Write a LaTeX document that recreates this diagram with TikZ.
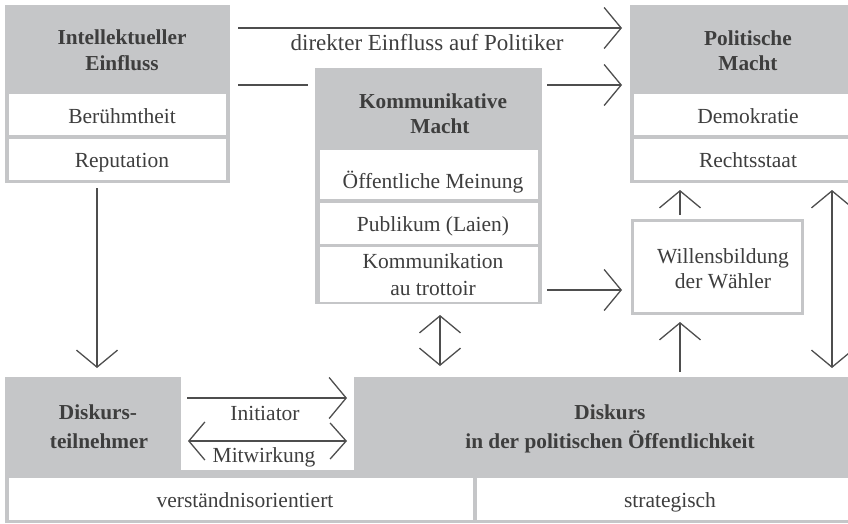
\documentclass[tikz,border=0pt]{standalone}
\usepackage{fontspec}
\setmainfont{Liberation Serif}
\usetikzlibrary{arrows.meta}
\definecolor{boxgray}{RGB}{197,198,200}
\definecolor{txtgray}{RGB}{62,62,62}
\definecolor{arrgray}{RGB}{78,78,78}
\begin{document}
\begin{tikzpicture}[x=1pt,y=-1pt,
  grayrect/.style={rectangle, fill=boxgray, draw=none, inner sep=0pt, outer sep=0pt, anchor=north west},
  whiterect/.style={rectangle, fill=white, draw=none, inner sep=0pt, outer sep=0pt, anchor=north west},
  framerect/.style={rectangle, fill=white, draw=boxgray, line width=3pt, inner sep=0pt, outer sep=0pt, anchor=north west},
  lbl/.style={anchor=base, inner sep=0pt, outer sep=0pt, text=txtgray, font=\fontsize{21.5}{27}\selectfont},
  biglbl/.style={lbl, font=\fontsize{23}{28}\selectfont},
  blbl/.style={lbl, font=\fontsize{21.3}{27}\selectfont\bfseries},
  conn/.style={draw=arrgray, line width=1.3pt},
  arr/.style={conn, -{Straight Barb[length=17pt,width=41pt]}},
  dbl/.style={conn, {Straight Barb[length=17pt,width=41pt]}-{Straight Barb[length=17pt,width=41pt]}},
  dblsmall/.style={conn, {Straight Barb[length=16pt,width=38pt]}-{Straight Barb[length=16pt,width=36pt]}}
]
\useasboundingbox (0,0) rectangle (848,523);

% Intellektueller Einfluss
\node[grayrect, minimum width=224.5pt, minimum height=178pt] (intel) at (5,5) {};
\node[whiterect, minimum width=217pt, minimum height=41pt] (beru) at (8.7,94.3) {};
\node[whiterect, minimum width=217pt, minimum height=41pt] (repu) at (8.7,139) {};
\node[blbl] (intelA) at (122,44) {Intellektueller};
\node[blbl] (intelB) at (122,70) {Einfluss};
\node[lbl] (beruT) at (122,123) {Berühmtheit};
\node[lbl] (repuT) at (122,167) {Reputation};

% Politische Macht
\node[grayrect, minimum width=218pt, minimum height=178pt] (pol) at (630,5) {};
\node[whiterect, minimum width=215pt, minimum height=41pt] (demo) at (633.5,94.3) {};
\node[whiterect, minimum width=215pt, minimum height=41pt] (rech) at (633.5,139) {};
\node[blbl] (polA) at (748,45) {Politische};
\node[blbl] (polB) at (748,70) {Macht};
\node[lbl] (demoT) at (748,123) {Demokratie};
\node[lbl] (rechT) at (748,167) {Rechtsstaat};

% Kommunikative Macht
\node[grayrect, minimum width=227pt, minimum height=236pt] (komm) at (315,68) {};
\node[whiterect, minimum width=218pt, minimum height=49pt] (oeff) at (319.5,150) {};
\node[whiterect, minimum width=218pt, minimum height=40.5pt] (publ) at (319.5,203) {};
\node[whiterect, minimum width=218pt, minimum height=54.5pt] (trot) at (319.5,247) {};
\node[blbl] (kommA) at (433,108) {Kommunikative};
\node[blbl] (kommB) at (440,133) {Macht};
\node[lbl] (oeffT) at (433,188) {Öffentliche Meinung};
\node[lbl] (publT) at (433,231) {Publikum (Laien)};
\node[lbl] (trotA) at (433,268) {Kommunikation};
\node[lbl] (trotB) at (433,295) {au trottoir};

% Willensbildung der Waehler
\node[framerect, minimum width=170pt, minimum height=93pt] (will) at (632.5,220.5) {};
\node[lbl] (willA) at (723,263) {Willensbildung};
\node[lbl] (willB) at (723,288) {der Wähler};

% bottom
\node[grayrect, minimum width=176pt, minimum height=101pt] (teil) at (5,377) {};
\node[grayrect, minimum width=494pt, minimum height=101pt] (disk) at (354,377) {};
\node[grayrect, minimum width=843pt, minimum height=53pt] (strip) at (5,470) {};
\node[whiterect, minimum width=464pt, minimum height=41.5pt] (verst) at (9,478.3) {};
\node[whiterect, minimum width=371pt, minimum height=41.5pt] (strat) at (477,478.3) {};
\node[blbl] (teilA) at (98,419) {Diskurs-};
\node[blbl] (teilB) at (99,448) {teilnehmer};
\node[blbl] (diskA) at (610,419) {Diskurs};
\node[blbl] (diskB) at (610,448) {in der politischen Öffentlichkeit};
\node[lbl] (verstT) at (245,507) {verständnisorientiert};
\node[lbl] (stratT) at (670,507) {strategisch};

% helper coordinates
\coordinate (yA) at (0,28);
\coordinate (yB) at (0,85);
\coordinate (yC) at (0,290);
\coordinate (yI) at (0,398);
\coordinate (yM) at (0,441);
\coordinate (xW) at (680,0);
\coordinate (xR) at (832,0);
\coordinate (xK) at (440,0);
\coordinate (xI) at (97,0);

% connectors
\draw[arr, shorten <=8.5pt, shorten >=8pt] (intel.east |- yA) -- (pol.west |- yA);
\node[biglbl] (direkt) at (427,50) {direkter Einfluss auf Politiker};
\draw[conn, shorten <=8.5pt, shorten >=7pt] (intel.east |- yB) -- (komm.west |- yB);
\draw[arr, shorten <=5pt, shorten >=8pt] (komm.east |- yB) -- (pol.west |- yB);
\draw[arr, shorten <=5pt, shorten >=10.5pt] (komm.east |- yC) -- (will.west |- yC);
\draw[arr, shorten <=5.5pt, shorten >=7pt] (xW |- will.north) -- (xW |- pol.south);
\draw[arr, shorten <=5pt, shorten >=8.5pt] (xW |- disk.north) -- (xW |- will.south);
\draw[dbl, shorten <=7pt, shorten >=9pt] (xR |- pol.south) -- (xR |- disk.north);
\draw[dbl, shorten <=11pt, shorten >=11pt] (xK |- komm.south) -- (xK |- disk.north);
\draw[arr, shorten <=5pt, shorten >=9pt] (xI |- intel.south) -- (xI |- teil.north);
\draw[arr, shorten <=6pt, shorten >=7pt] (teil.east |- yI) -- (disk.west |- yI);
\draw[dblsmall, shorten <=7pt, shorten >=7pt] (teil.east |- yM) -- (disk.west |- yM);
\node[lbl] (initT) at (265,420) {Initiator};
\node[lbl] (mitwT) at (264,462) {Mitwirkung};
\end{tikzpicture}
\end{document}
